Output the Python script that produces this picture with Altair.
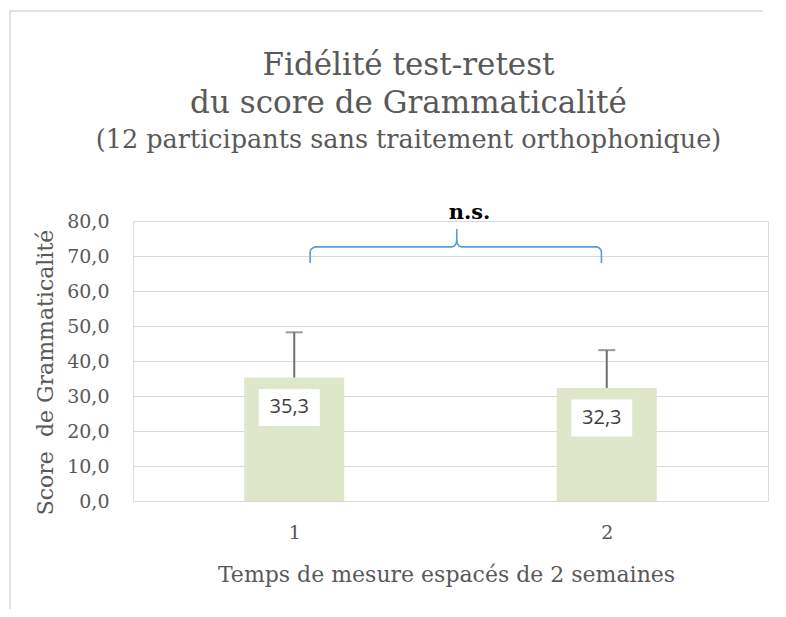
import altair as alt
import pandas as pd

# ---- data ----
times = [1, 2]
tick_labels = ["1", "2"]
means = [35.3, 32.3]
sds = [12.9, 10.8]
y_ticks = [0, 10, 20, 30, 40, 50, 60, 70, 80]

# brace annotation (in data units: x = measure position, y = score)
brace_x = [1.051, 1.051, 1.053, 1.059, 1.067, 1.505, 1.513, 1.518, 1.520, 1.520,
           1.520, 1.522, 1.527, 1.535, 1.968, 1.976, 1.981, 1.983, 1.983]
brace_y = [68.0, 71.1, 71.8, 72.3, 72.6, 72.6, 72.9, 73.6, 74.6, 77.7,
           74.6, 73.6, 72.9, 72.6, 72.6, 72.3, 71.8, 71.1, 68.0]
ns_label = ["n.s."]
ns_x = [1.561]
ns_y = [80.6]

TEXT = "#595959"
SERIF = "DejaVu Serif"

df = pd.DataFrame({
    "t": times,
    "mean": means,
    "hi": [m + s for m, s in zip(means, sds)],
    "label": [f"{m:.1f}".replace(".", ",") for m in means],
})
brace = pd.DataFrame({"x": brace_x, "y": brace_y, "o": list(range(len(brace_x)))})
ns = pd.DataFrame({"x": ns_x, "y": ns_y, "t": ns_label})

xscale = alt.Scale(domain=[0.5, 2.5], nice=False, zero=False)
yscale = alt.Scale(domain=[0, 80], nice=False)

x_axis = alt.Axis(
    values=times, labelExpr="datum.value == 1 ? '1' : '2'", grid=False, domain=False,
    ticks=False, tickSize=0, labelPadding=22, labelFontSize=19, labelFont=SERIF,
    labelColor=TEXT, title="Temps de mesure espacés de 2 semaines", titleFont=SERIF,
    titleFontSize=22, titleColor=TEXT, titleFontWeight="normal", titleY=63,
    titleX=313,
)
y_axis = alt.Axis(
    values=y_ticks, labelExpr="replace(format(datum.value, '.1f'), '.', ',')",
    grid=True, gridColor="#d9d9d9", gridWidth=1.2, domain=False, ticks=False,
    tickSize=0, labelPadding=24, labelFontSize=19, labelFont=SERIF, labelColor=TEXT,
    labelOverlap=False,
    title="Score\u00a0 de Grammaticalité", titleFont=SERIF, titleFontSize=22,
    titleColor=TEXT, titleFontWeight="normal", titleX=-88, titleY=151,
    titleAngle=-90, titleBaseline="middle", titleAlign="center",
)

def X(field):
    return alt.X(field, scale=xscale, axis=x_axis)

def Y(field):
    return alt.Y(field, scale=yscale, axis=y_axis)

base = alt.Chart(df)

bars = base.mark_bar(size=100, color="#dee7c9").encode(x=X("t:Q"), y=Y("mean:Q"))
err = base.mark_rule(color="#6f6f6f", strokeWidth=2).encode(
    x=X("t:Q"), y=Y("mean:Q"), y2="hi:Q"
)
cap = base.mark_tick(orient="horizontal", size=17, thickness=2, color="#6f6f6f").encode(
    x=X("t:Q"), y=Y("hi:Q")
)
box = base.mark_point(
    shape="M-1,-0.607L1,-0.607L1,0.607L-1,0.607Z", size=3721, filled=True,
    color="white", opacity=1, strokeWidth=0, xOffset=-5, yOffset=30,
).encode(x=X("t:Q"), y=Y("mean:Q"))
lab = base.mark_text(
    font="Open Sans", fontSize=20, color="#404040", xOffset=-5, yOffset=30,
    baseline="middle", align="center",
).encode(x=X("t:Q"), y=Y("mean:Q"), text="label:N")

brace_line = alt.Chart(brace).mark_line(color="#5b9bd5", strokeWidth=1.6).encode(
    x=X("x:Q"), y=Y("y:Q"), order="o:Q"
)
ns_text = alt.Chart(ns).mark_text(
    font=SERIF, fontSize=21, fontWeight="bold", color="black",
    baseline="alphabetic", align="center",
).encode(x=X("x:Q"), y=Y("y:Q"), text="t:N")

# outer chart frame (top and left edges visible in the reference)
one = pd.DataFrame({"a": [0]})
frame_top = alt.Chart(one).mark_rule(stroke="#d9d9d9", strokeWidth=1.5).encode(
    x=alt.value(-123), x2=alt.value(630), y=alt.value(-210), y2=alt.value(-210)
)
frame_left = alt.Chart(one).mark_rule(stroke="#d9d9d9", strokeWidth=1.5).encode(
    x=alt.value(-123), x2=alt.value(-123), y=alt.value(-210), y2=alt.value(390)
)

chart = alt.layer(frame_top, frame_left, bars, err, cap, box, lab, brace_line, ns_text).properties(
    width=635, height=280,
    autosize=alt.AutoSizeParams(type="none"),
    padding={"left": 125, "top": 213, "right": 10, "bottom": 108},
    title=alt.TitleParams(
        text=["Fidélité test-retest", "du score de Grammaticalité"],
        subtitle="(12 participants sans traitement orthophonique)",
        font=SERIF, fontSize=31, fontWeight="normal", color=TEXT, lineHeight=38,
        subtitleFont=SERIF, subtitleFontSize=25.5, subtitleColor=TEXT,
        subtitlePadding=8, anchor="middle", dx=-42, offset=-144,
    ),
).configure_view(stroke=None).configure(background="white")

chart.save("out.html", embed_options={"renderer": "svg", "actions": False})
